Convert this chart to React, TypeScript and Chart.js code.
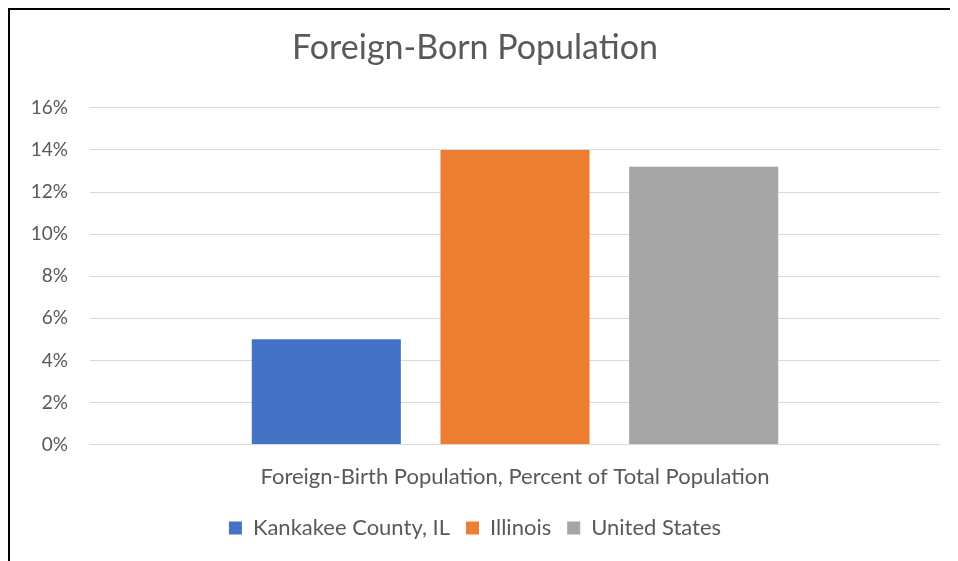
import React, { useEffect, useRef } from "react";
import { Chart, registerables } from "chart.js";

Chart.register(...registerables);

const categories = ["Foreign-Birth Population, Percent of Total Population"];
const seriesNames = ["Kankakee County, IL", "Illinois", "United States"];
const kankakee = [5.0];
const illinois = [14.0];
const unitedStates = [13.2];
const seriesColors = ["#4472C4", "#ED7D31", "#A5A5A5"];
const yTicks = [0, 2, 4, 6, 8, 10, 12, 14, 16];

const FONT = "Lato, 'Open Sans', sans-serif";

export default function App() {
  const ref = useRef<HTMLCanvasElement | null>(null);
  useEffect(() => {
    if (!ref.current) return;
    const values = [kankakee, illinois, unitedStates];
    const chart = new Chart(ref.current, {
      type: "bar",
      data: {
        labels: categories,
        datasets: seriesNames.map((name, i) => ({
          label: name,
          data: values[i],
          backgroundColor: seriesColors[i],
          borderWidth: 0,
          categoryPercentage: 0.666,
          barPercentage: 0.79,
        })),
      },
      options: {
        animation: false,
        responsive: false,
        maintainAspectRatio: false,
        layout: { padding: { left: 0, right: 18, top: 18, bottom: 12 } },
        plugins: {
          title: {
            display: true,
            text: "Foreign-Born Population",
            color: "#595959",
            font: { family: FONT, size: 34, weight: "normal" },
            padding: { top: 0, bottom: 39 },
          },
          legend: {
            position: "bottom",
            labels: {
              boxWidth: 13,
              boxHeight: 13,
              color: "#595959",
              font: { family: FONT, size: 22 },
              padding: 16,
            },
          },
          tooltip: { enabled: false },
        },
        scales: {
          x: {
            grid: { display: false },
            border: { display: false },
            ticks: { color: "#595959", font: { family: FONT, size: 22 }, padding: 11 },
          },
          y: {
            min: 0,
            max: 16,
            afterBuildTicks: (scale: any) => {
              scale.ticks = yTicks.map((v) => ({ value: v }));
            },
            afterFit: (scale: any) => {
              scale.width = 80;
            },
            grid: { color: "#D9D9D9", lineWidth: 1, drawTicks: false },
            border: { display: false },
            ticks: {
              color: "#595959",
              font: { family: FONT, size: 19 },
              padding: 22,
              callback: (v: any) => v + "%",
            },
          },
        },
      },
    });
    return () => chart.destroy();
  }, []);
  return (
    <div
      style={{
        width: 950,
        height: 553,
        borderTop: "2px solid #000",
        borderLeft: "2px solid #000",
        boxSizing: "border-box",
        background: "#fff",
      }}
    >
      <canvas ref={ref} width={948} height={551} style={{ display: "block" }} />
    </div>
  );
}
